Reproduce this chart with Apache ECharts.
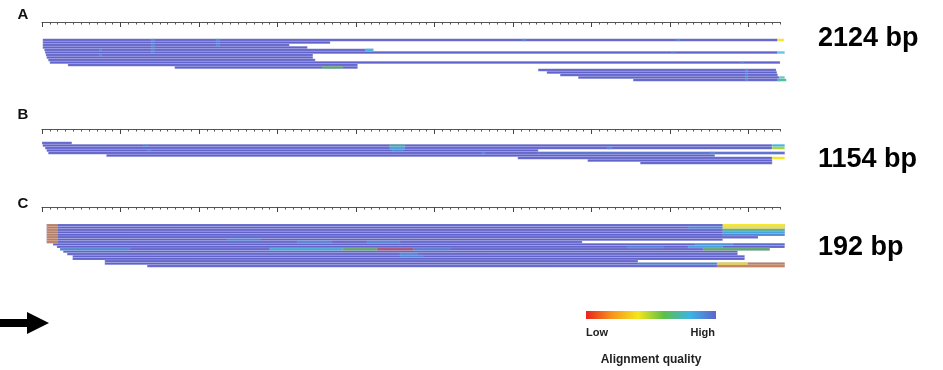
<!DOCTYPE html>
<html>
<head>
<meta charset="utf-8">
<title>Read alignments</title>
<script src="https://cdn.jsdelivr.net/npm/echarts@6/dist/echarts.min.js"></script>
<style>
html, body { margin: 0; padding: 0; background: #fff; }
#chart { width: 943px; height: 370px; }
</style>
</head>
<body>
<div id="chart"></div>
<script>
// reads: [row, start, end, quality(0-1)]
var readsA = [
  [0, 1, 937, 1], [1, 1, 367, 1], [2, 1, 315, 1], [3, 1, 338, 1], [4, 3, 422, 1],
  [5, 4, 937, 1], [6, 5, 345, 1], [7, 6, 345, 1], [8, 8, 348, 1], [9, 10, 940, 1],
  [10, 33, 402, 1], [11, 169, 402, 1], [12, 632, 935, 1], [13, 643, 936, 1],
  [14, 660, 937, 1], [15, 683, 939, 1], [16, 753, 940, 1]
]
// coloured stretches on top of the reads: [row, start, end, quality, opacity]
var marksA = [
  [0, 937, 945, 0.4, 1], [4, 412, 422, 0.8, 1], [5, 937, 946, 0.8, 0.8],
  [15, 939, 946, 0.75, 0.8], [16, 937, 948, 0.7, 1], [11, 357, 383, 0.6, 0.7],
  [0, 139, 143, 0.85, 0.5], [1, 139, 143, 0.85, 0.5], [2, 139, 143, 0.85, 0.5],
  [3, 139, 143, 0.85, 0.5], [4, 139, 143, 0.85, 0.5], [5, 139, 143, 0.85, 0.5],
  [0, 222, 226, 0.85, 0.5], [1, 222, 226, 0.85, 0.5], [2, 222, 226, 0.85, 0.5],
  [4, 73, 76, 0.85, 0.5], [6, 73, 76, 0.85, 0.5], [0, 612, 616, 0.85, 0.5],
  [0, 808, 812, 0.85, 0.5], [5, 802, 806, 0.85, 0.5], [9, 890, 894, 0.85, 0.5],
  [12, 896, 899, 0.85, 0.5], [13, 896, 899, 0.85, 0.5], [14, 896, 899, 0.85, 0.5],
  [15, 896, 899, 0.85, 0.5], [16, 896, 899, 0.85, 0.5]
]
var readsB = [
  [0, 0, 38, 1], [1, 1, 930, 1], [2, 4, 930, 1], [3, 6, 632, 1], [4, 8, 946, 1],
  [5, 82, 857, 1], [6, 606, 930, 1], [7, 695, 930, 1], [8, 762, 930, 1]
]
var marksB = [
  [1, 930, 946, 0.8, 1], [2, 930, 946, 0.5, 1], [4, 632, 946, 0.95, 0.6], [6, 930, 946, 0.4, 1],
  [1, 443, 462, 0.7, 0.7], [2, 443, 462, 0.8, 0.7], [3, 446, 460, 0.85, 0.6],
  [2, 720, 726, 0.85, 0.5], [4, 560, 564, 0.85, 0.5], [4, 851, 857, 0.85, 0.5],
  [1, 129, 135, 0.85, 0.5], [3, 134, 138, 0.85, 0.5]
]
var readsC = [
  [0, 6, 946, 1], [1, 6, 946, 1], [2, 6, 946, 1], [3, 6, 946, 1], [4, 6, 946, 1],
  [5, 6, 912, 1], [6, 6, 867, 1], [7, 6, 688, 1], [8, 14, 946, 1], [9, 19, 946, 1],
  [10, 23, 927, 1], [11, 27, 886, 1], [12, 32, 886, 1], [13, 39, 895, 1],
  [14, 39, 895, 1], [15, 80, 759, 1], [16, 80, 946, 1], [17, 134, 946, 1]
]
var marksC = [
  [0, 6, 20, 0.2, 0.55], [1, 6, 20, 0.2, 0.55], [2, 6, 20, 0.2, 0.55], [3, 6, 20, 0.2, 0.55],
  [4, 6, 20, 0.2, 0.55], [5, 6, 20, 0.2, 0.55], [6, 6, 20, 0.2, 0.55], [7, 6, 20, 0.2, 0.55],
  [0, 867, 946, 0.4, 1], [1, 867, 946, 0.4, 1], [1, 823, 867, 0.85, 0.5],
  [2, 867, 946, 0.7, 0.8], [3, 867, 946, 0.8, 0.8], [4, 867, 946, 0.85, 0.6],
  [6, 236, 278, 0.85, 0.5], [7, 325, 369, 0.85, 0.5], [7, 414, 456, 0.85, 0.5],
  [8, 832, 880, 0.8, 0.6], [8, 880, 946, 0.95, 0.5],
  [9, 746, 791, 0.85, 0.5], [9, 823, 867, 0.8, 0.7],
  [10, 23, 112, 0.85, 0.5], [10, 290, 383, 0.78, 0.8], [10, 383, 427, 0.6, 0.7],
  [10, 427, 473, 0.05, 0.45], [10, 473, 520, 0.9, 0.5], [10, 842, 927, 0.6, 0.7],
  [12, 456, 478, 0.85, 0.5], [13, 456, 485, 0.85, 0.5],
  [16, 759, 860, 0.85, 0.5], [16, 860, 899, 0.4, 0.9], [16, 899, 946, 0.2, 0.6],
  [17, 860, 946, 0.2, 0.6]
]

var panelLabels = ['A', 'B', 'C']
var lengthLabels = ['2124 bp', '1154 bp', '192 bp']
var rulerMax = 940
var majorTicks = [0, 100, 200, 300, 400, 500, 600, 700, 800, 900]
var qualityColors = ['#e8231c', '#f7941d', '#f4e61c', '#5cbf48', '#3cb4e6', '#6163cb']
var legendText = ['Low', 'High', 'Alignment quality']

// layout of the three panels (pixels): ruler line y, first read row top, row height
var panels = [
  { rows: 17, top: 38.75, rowH: 2.5, ruler: 22, labelY: 15, sizeY: 39 },
  { rows: 9, top: 141.75, rowH: 2.5, ruler: 129, labelY: 115, sizeY: 160 },
  { rows: 18, top: 224, rowH: 2.4, ruler: 207, labelY: 204, sizeY: 248 }
]
var readSets = [[readsA, marksA], [readsB, marksB], [readsC, marksC]]

function renderRead(params, api) {
  var p0 = api.coord([api.value(1), api.value(0)])
  var p1 = api.coord([api.value(2), api.value(0)])
  var h = api.size([0, 1])[1]
  var op = api.value(4)
  if (isNaN(op)) op = 1
  return {
    type: 'rect',
    shape: { x: p0[0], y: p0[1] - h / 2, width: p1[0] - p0[0], height: h },
    style: { fill: api.visual('color'), opacity: op, stroke: 'rgba(255,255,255,0.35)', lineWidth: 0.5 }
  }
}

var grid = [], xAxis = [], yAxis = [], series = [], graphic = []
panels.forEach(function (p, i) {
  var bottom = p.top + p.rows * p.rowH
  // grid starts at the ruler, empty rows above the first read
  var padRows = (p.top - p.ruler) / p.rowH
  grid.push({ left: 42, width: 738, top: p.ruler, height: bottom - p.ruler, containLabel: false })
  // minor ruler ticks
  xAxis.push({
    gridIndex: i, type: 'value', position: 'top',
    min: 0, max: rulerMax, interval: 10,
    axisLine: { onZero: false, lineStyle: { color: '#555', width: 1 } },
    axisTick: { inside: true, length: 2.5, lineStyle: { color: '#555' } },
    axisLabel: { show: false }, splitLine: { show: false }
  })
  // major ruler ticks
  xAxis.push({
    gridIndex: i, type: 'value', position: 'bottom', offset: p.ruler - bottom,
    min: 0, max: rulerMax,
    axisLine: { show: false, onZero: false },
    axisTick: { inside: false, length: 5, customValues: majorTicks, lineStyle: { color: '#444' } },
    axisLabel: { show: false }, splitLine: { show: false }
  })
  yAxis.push({ gridIndex: i, type: 'value', inverse: true, min: -0.5 - padRows, max: p.rows - 0.5, show: false })
  readSets[i].forEach(function (d) {
    series.push({
      type: 'custom', xAxisIndex: i * 2, yAxisIndex: i,
      renderItem: renderRead, data: d, silent: true
    })
  })
  graphic.push({
    type: 'text', x: 23, y: p.labelY,
    style: { text: panelLabels[i], font: 'bold 15px "Liberation Sans"', fill: '#111', align: 'center', verticalAlign: 'middle' }
  })
  graphic.push({
    type: 'text', x: 818, y: p.sizeY,
    style: { text: lengthLabels[i], font: 'bold 27px "Liberation Sans"', fill: '#000', align: 'left', verticalAlign: 'middle' }
  })
})

// alignment quality legend
var stops = qualityColors.map(function (c, k) {
  return { offset: k / (qualityColors.length - 1), color: c }
})
graphic.push({
  type: 'rect', shape: { x: 586, y: 311, width: 130, height: 8 },
  style: { fill: new echarts.graphic.LinearGradient(0, 0, 1, 0, stops) }
})
graphic.push({ type: 'text', x: 586, y: 333, style: { text: legendText[0], font: 'bold 11px "Liberation Sans"', fill: '#222', align: 'left', verticalAlign: 'middle' } })
graphic.push({ type: 'text', x: 715, y: 333, style: { text: legendText[1], font: 'bold 11px "Liberation Sans"', fill: '#222', align: 'right', verticalAlign: 'middle' } })
graphic.push({ type: 'text', x: 651, y: 360, style: { text: legendText[2], font: 'bold 12px "Liberation Sans"', fill: '#222', align: 'center', verticalAlign: 'middle' } })
// arrow
graphic.push({
  type: 'polygon',
  shape: { points: [[0, 319], [27, 319], [27, 312], [49, 323], [27, 334], [27, 327], [0, 327]] },
  style: { fill: '#000' }
})

var myChart = echarts.init(document.getElementById('chart'))
var option = {
  backgroundColor: '#fff',
  animation: false,
  grid: grid,
  xAxis: xAxis,
  yAxis: yAxis,
  visualMap: {
    type: 'continuous', show: false, min: 0, max: 1, dimension: 3,
    inRange: { color: qualityColors }
  },
  graphic: graphic,
  series: series
}
myChart.setOption(option)
</script>
</body>
</html>
